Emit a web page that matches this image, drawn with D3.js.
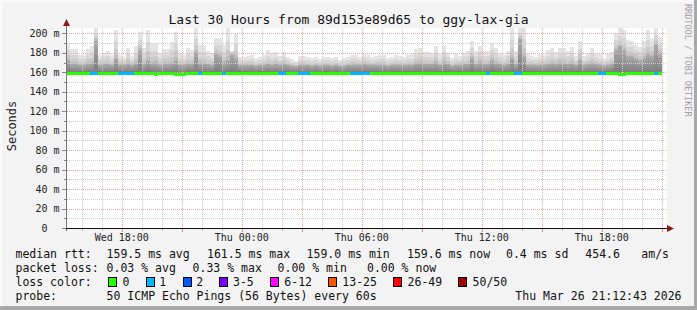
<!DOCTYPE html>
<html>
<head>
<meta charset="utf-8">
<script src="https://cdn.jsdelivr.net/npm/d3@7"></script>
<style>
html, body { margin: 0; padding: 0; background: #fff; }
svg { display: block; }
text { font-family: "DejaVu Sans Mono", monospace; }
</style>
</head>
<body>
<script>
var width = 697;
var height = 310;
var plotLeft = 66, plotRight = 666, plotTop = 28, plotBottom = 228;

var titleText = "Last 30 Hours from 89d153e89d65 to ggy-lax-gia";
var startTime = Date.UTC(2026, 2, 25, 15, 12, 43);
var endTime = Date.UTC(2026, 2, 26, 21, 12, 43);
var stepSeconds = 720;

// highest ping of each 12 minute step (ms)
var colMax = [
    189, 184, 184, 178, 178, 184, 187, 205, 178, 180,
    182, 178, 203, 178, 176, 185, 177, 187, 201, 185,
    203, 190, 190, 180, 184, 184, 191, 201, 180, 178,
    185, 183, 205, 188, 188, 182, 180, 195, 195, 188,
    205, 182, 199, 176, 176, 177, 178, 175, 176, 178,
    183, 180, 181, 177, 181, 176, 174, 172, 177, 177,
    176, 175, 176, 174, 176, 176, 175, 176, 173, 175,
    176, 178, 178, 176, 180, 178, 176, 177, 178, 178,
    175, 176, 178, 177, 176, 178, 178.5, 183.5, 185, 181,
    181, 180, 187, 178.5, 187, 180, 175, 178.5, 177, 180,
    182, 192.5, 182, 187, 182, 182, 190, 185, 180, 178,
    181.5, 206, 182, 205, 205, 178.5, 177, 176, 178.5, 178,
    183, 184.5, 181, 185, 185, 182, 186, 177, 192, 177,
    180, 184.5, 180, 178.5, 175, 178.5, 181, 200.5, 205, 203,
    193, 192, 188.5, 186, 192.5, 203, 194, 205, 196
];

// upper quartile ping of each step (ms)
var colUpper = [
    172, 168, 168, 167, 167, 168, 169, 192, 167, 168,
    168, 167, 174, 167, 167, 168, 167, 169, 182, 168,
    172, 169, 170, 167, 168, 168, 169, 172, 167, 167,
    168, 168, 180, 169, 169, 168, 167, 178, 176, 170,
    172, 178, 174, 167, 167, 167, 167, 166, 167, 167,
    168, 167, 168, 167, 168, 167, 166, 166, 167, 167,
    167, 166, 167, 166, 167, 167, 166, 167, 166, 166,
    167, 167, 167, 167, 168, 167, 167, 167, 167, 167,
    166, 167, 167, 167, 167, 167, 167, 169, 169, 168,
    168, 168, 170, 167, 170, 168, 166, 167, 167, 168,
    168, 174, 168, 170, 168, 168, 172, 169, 168, 167,
    168, 174, 168, 194, 176, 167, 167, 167, 167, 167,
    168, 169, 168, 169, 169, 168, 169, 167, 172, 167,
    168, 169, 168, 167, 166, 167, 168, 182, 186, 182,
    176, 176, 174, 172, 174, 178, 176, 188, 178
];

// median rtt of each step (ms)
var colMedian = [
    159.5, 159.5, 159.5, 159.5, 159.5, 159.5, 159.5, 159.5, 159.5, 159.5,
    159.5, 159.5, 159.5, 159.5, 159.5, 159.5, 159.5, 159.5, 159.5, 159.5,
    159.5, 159.5, 158.5, 159.5, 159.5, 159.5, 159.5, 158.5, 158.5, 158.5,
    159.5, 159.5, 159.5, 159.5, 159.5, 159.5, 159.5, 159.5, 159.5, 159.5,
    159.5, 159.5, 159.5, 159.5, 159.5, 159.5, 159.5, 159.5, 159.5, 159.5,
    159.5, 159.5, 159.5, 159.5, 159.5, 159.5, 159.5, 159.5, 159.5, 159.5,
    159.5, 159.5, 159.5, 159.5, 159.5, 159.5, 159.5, 159.5, 159.5, 159.5,
    159.5, 159.5, 159.5, 159.5, 159.5, 159.5, 159.5, 159.5, 159.5, 159.5,
    159.5, 159.5, 159.5, 159.5, 159.5, 159.5, 159.5, 159.5, 159.5, 159.5,
    159.5, 159.5, 159.5, 159.5, 159.5, 159.5, 159.5, 159.5, 159.5, 159.5,
    159.5, 159.5, 159.5, 159.5, 159.5, 159.5, 159.5, 159.5, 159.5, 159.5,
    159.5, 159.5, 159.5, 159.5, 159.5, 159.5, 159.5, 159.5, 159.5, 159.5,
    159.5, 159.5, 159.5, 159.5, 159.5, 159.5, 159.5, 159.5, 159.5, 159.5,
    159.5, 159.5, 159.5, 159.5, 159.5, 159.5, 159.5, 159.5, 158.5, 158.5,
    159.5, 159.5, 159.5, 159.5, 159.5, 159.5, 159.5, 159.5, 159.5
];

// lost pings (of 50) in each step
var colLoss = [
    0, 0, 0, 0, 0, 0, 1, 1, 0, 0,
    0, 0, 0, 1, 1, 1, 1, 0, 0, 0,
    0, 0, 0, 0, 0, 0, 0, 0, 0, 0,
    0, 0, 0, 1, 0, 0, 0, 0, 0, 1,
    0, 0, 0, 0, 0, 0, 0, 0, 0, 0,
    0, 0, 0, 1, 1, 0, 0, 0, 1, 1,
    1, 0, 0, 0, 0, 0, 0, 0, 0, 0,
    0, 1, 1, 1, 1, 1, 0, 0, 0, 0,
    0, 0, 0, 0, 0, 0, 0, 0, 0, 0,
    0, 0, 0, 0, 0, 0, 0, 0, 0, 0,
    0, 0, 0, 0, 0, 1, 0, 0, 0, 0,
    0, 0, 1, 1, 0, 0, 0, 0, 0, 0,
    0, 0, 0, 0, 0, 0, 0, 0, 0, 0,
    0, 0, 0, 1, 1, 0, 0, 0, 0, 0,
    0, 0, 0, 0, 0, 0, 0, 1, 0
];

var lossLabels = ["0", "1", "2", "3-5", "6-12", "13-25", "26-49", "50/50"];
var lossFrom = [0, 1, 2, 3, 6, 13, 26, 50];
var lossColors = ["#26ff00", "#00b8ff", "#0059ff", "#7e00ff", "#ff00ff", "#ff5500", "#ff0000", "#a10000"];

var yTicks = [0, 10, 20, 30, 40, 50, 60, 70, 80, 90, 100, 110, 120, 130, 140, 150, 160, 170, 180, 190, 200];

var medianStats = ["159.5 ms avg", "161.5 ms max", "159.0 ms min", "159.6 ms now", "0.4 ms sd", "454.6", "am/s"];
var lossStats = ["0.03 % avg", "0.33 % max", "0.00 % min", "0.00 % now"];
var probeText = "50 ICMP Echo Pings (56 Bytes) every 60s";
var stampText = "Thu Mar 26 21:12:43 2026";

var svg = d3.select("body").append("svg")
    .attr("width", width)
    .attr("height", height);

// canvas and frame
svg.append("rect").attr("width", width).attr("height", height).attr("fill", "#f3f3f3");
svg.append("rect").attr("x", 0).attr("y", 0).attr("width", width).attr("height", 2).attr("fill", "#fbfbfb");
svg.append("rect").attr("x", 0).attr("y", 0).attr("width", 2).attr("height", height).attr("fill", "#fbfbfb");
svg.append("rect").attr("x", width - 3).attr("y", 0).attr("width", 3).attr("height", height).attr("fill", "#a8a8a8");
svg.append("rect").attr("x", 0).attr("y", height - 4).attr("width", width).attr("height", 4).attr("fill", "#a8a8a8");

svg.append("rect")
    .attr("x", plotLeft).attr("y", plotTop)
    .attr("width", plotRight - plotLeft + 1).attr("height", plotBottom - plotTop)
    .attr("fill", "#ffffff");

var x = d3.scaleUtc()
    .domain([new Date(startTime), new Date(endTime)])
    .range([plotLeft, plotRight]);
var y = d3.scaleLinear()
    .domain([0, 205.5])
    .range([plotBottom, plotTop]);

function colX(k) {
    return Math.round(x(new Date(startTime + k * stepSeconds * 1000)));
}

// smoke: a light full-height band, then translucent layers from the
// median up to each ping quantile (pings thin out towards the max)
var layers = 9;
var smoke = [];
colMax.forEach(function(mx, k) {
    var m = colMedian[k], q = colUpper[k];
    smoke.push({ k: k, lo: m, hi: mx, base: true });
    for (var j = 1; j <= layers; j++) {
        var f = j / (layers + 1);
        var top = f <= 0.5 ? m + (q - m) * f * 2 : q + (mx - q) * Math.pow((f - 0.5) * 2, 2.2);
        smoke.push({ k: k, lo: m, hi: top, base: false });
    }
});

svg.append("g")
    .attr("shape-rendering", "crispEdges")
    .selectAll("rect")
    .data(smoke)
    .join("rect")
    .attr("x", d => colX(d.k))
    .attr("width", d => colX(d.k + 1) - colX(d.k))
    .attr("y", d => Math.round(y(d.hi)))
    .attr("height", d => Math.max(0, Math.round(y(d.lo)) - Math.round(y(d.hi))))
    .attr("fill", d => d.base ? "#e4e4e4" : "#000")
    .attr("fill-opacity", d => d.base ? 1 : 0.06);

// grid on top of the smoke
var grid = svg.append("g").attr("shape-rendering", "crispEdges");
var hourTicks = x.ticks(d3.utcHour.every(1));
grid.selectAll("line.v")
    .data(hourTicks)
    .join("line")
    .attr("class", "v")
    .attr("x1", d => Math.round(x(d)) + 0.5)
    .attr("x2", d => Math.round(x(d)) + 0.5)
    .attr("y1", plotTop)
    .attr("y2", plotBottom)
    .attr("stroke", d => d.getUTCHours() % 3 === 0 ? "#e2aaaa" : "#cfcfcf")
    .attr("stroke-dasharray", "1,1");

grid.selectAll("line.h")
    .data(yTicks.filter(v => v > 0))
    .join("line")
    .attr("class", "h")
    .attr("x1", plotLeft + 1)
    .attr("x2", plotRight + 1)
    .attr("y1", d => Math.round(y(d)) + 0.5)
    .attr("y2", d => Math.round(y(d)) + 0.5)
    .attr("stroke", d => d % 20 === 0 ? "#e2aaaa" : "#cfcfcf")
    .attr("stroke-dasharray", "1,1");

// median line coloured by loss
function lossColor(n) {
    var i = d3.bisectRight(lossFrom, n) - 1;
    return lossColors[Math.max(0, i)];
}
svg.append("g")
    .attr("shape-rendering", "crispEdges")
    .selectAll("rect")
    .data(colMedian)
    .join("rect")
    .attr("x", (d, k) => colX(k))
    .attr("width", (d, k) => colX(k + 1) - colX(k))
    .attr("y", d => Math.round(y(d)) - 1)
    .attr("height", 3)
    .attr("fill", (d, k) => lossColor(colLoss[k]));

// axes
var axes = svg.append("g").attr("shape-rendering", "crispEdges");
axes.append("line")
    .attr("x1", plotLeft + 0.5).attr("x2", plotLeft + 0.5)
    .attr("y1", plotBottom + 3).attr("y2", 24)
    .attr("stroke", "#777");
axes.append("line")
    .attr("x1", plotLeft - 4).attr("x2", plotRight + 2)
    .attr("y1", plotBottom + 0.5).attr("y2", plotBottom + 0.5)
    .attr("stroke", "#111");

axes.selectAll("line.yt")
    .data(yTicks)
    .join("line")
    .attr("class", "yt")
    .attr("x1", d => d % 20 === 0 ? plotLeft - 4 : plotLeft - 2)
    .attr("x2", plotLeft)
    .attr("y1", d => Math.round(y(d)) + 0.5)
    .attr("y2", d => Math.round(y(d)) + 0.5)
    .attr("stroke", "#888");

axes.selectAll("line.xt")
    .data(hourTicks)
    .join("line")
    .attr("class", "xt")
    .attr("x1", d => Math.round(x(d)) + 0.5)
    .attr("x2", d => Math.round(x(d)) + 0.5)
    .attr("y1", plotBottom + 1)
    .attr("y2", d => d.getUTCHours() % 3 === 0 ? plotBottom + 4 : plotBottom + 3)
    .attr("stroke", d => d.getUTCHours() % 3 === 0 ? "#d89090" : "#bbb");

svg.append("path")
    .attr("d", "M" + (plotLeft - 3) + ",26 L" + (plotLeft + 4) + ",26 L" + (plotLeft + 0.5) + ",19 Z")
    .attr("fill", "#8b1a1a");
svg.append("path")
    .attr("d", "M" + (plotRight + 1) + "," + (plotBottom - 3) + " L" + (plotRight + 1) + "," + (plotBottom + 4) +
        " L" + (plotRight + 8) + "," + (plotBottom + 0.5) + " Z")
    .attr("fill", "#8b1a1a");

// tick labels
svg.append("g")
    .selectAll("text")
    .data(yTicks.filter(v => v % 20 === 0))
    .join("text")
    .attr("x", d => d === 0 ? 47.5 : 59.5)
    .attr("y", d => y(d) + 3.5)
    .attr("text-anchor", "end")
    .attr("font-size", "10px")
    .attr("fill", "#222")
    .text(d => d === 0 ? "0" : d + " m");

var fmt = d3.utcFormat("%a %H:%M");
svg.append("g")
    .selectAll("text")
    .data(x.ticks(d3.utcHour.every(6)))
    .join("text")
    .attr("x", d => x(d))
    .attr("y", 241)
    .attr("text-anchor", "middle")
    .attr("font-size", "10px")
    .attr("fill", "#222")
    .text(d => fmt(d));

// title and side texts
svg.append("text")
    .attr("x", 348.5)
    .attr("y", 23.5)
    .attr("text-anchor", "middle")
    .attr("font-size", "13px")
    .attr("fill", "#111")
    .text(titleText);

svg.append("text")
    .attr("transform", "translate(15.5,126) rotate(-90)")
    .attr("text-anchor", "middle")
    .attr("font-size", "12px")
    .attr("fill", "#222")
    .text("Seconds");

svg.append("text")
    .attr("transform", "translate(684.5,4) rotate(90)")
    .attr("font-size", "8.5px")
    .attr("fill", "#a0a0a0")
    .text("RRDTOOL / TOBI OETIKER");

// legend
var legend = svg.append("g")
    .attr("font-size", "11.5px")
    .attr("fill", "#111")
    .style("white-space", "pre");

function put(xp, yp, t, anchor) {
    legend.append("text")
        .attr("x", xp)
        .attr("y", yp)
        .attr("text-anchor", anchor || "start")
        .text(t);
}

var rowY = [258.3, 272.1, 286, 299.8];
put(15.5, rowY[0], "median rtt:");
[106.6, 207, 306.6, 407, 506, 585.3, 641.3].forEach((xp, i) => put(xp, rowY[0], medianStats[i]));

put(15.5, rowY[1], "packet loss:");
[106.6, 192.6, 277.6, 367].forEach((xp, i) => put(xp, rowY[1], lossStats[i]));

put(15.5, rowY[2], "loss color:");
var swatchX = [108.3, 145.7, 182.7, 219.3, 270, 328.3, 393.3, 458.3];
var labelX = [122.6, 159.3, 196.3, 233, 284.3, 342.3, 407.6, 472.6];
legend.append("g")
    .attr("shape-rendering", "crispEdges")
    .selectAll("rect")
    .data(lossColors)
    .join("rect")
    .attr("x", (d, i) => Math.round(swatchX[i]) + 0.5)
    .attr("y", 277.5)
    .attr("width", 8)
    .attr("height", 9)
    .attr("fill", d => d)
    .attr("stroke", "#000");
lossLabels.forEach((t, i) => put(labelX[i], rowY[2], t));

put(15.5, rowY[3], "probe:");
put(106.6, rowY[3], probeText);
put(681.5, rowY[3], stampText, "end");
</script>
</body>
</html>
